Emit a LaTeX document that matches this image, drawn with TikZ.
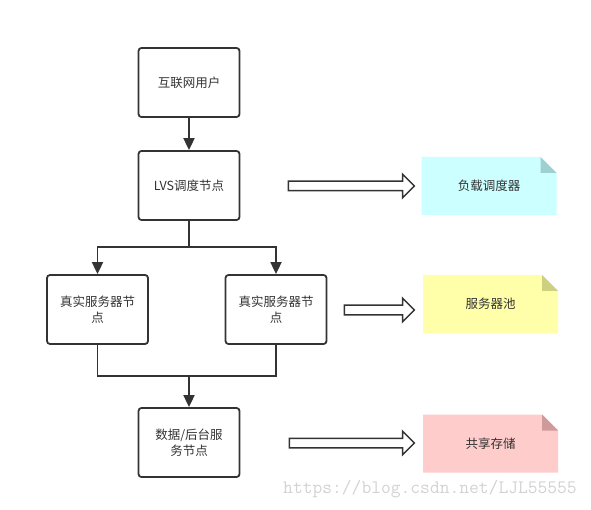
\documentclass[tikz,border=0pt]{standalone}
\usepackage{fontspec}
\newfontfamily\cjk{Noto Sans CJK SC}
\usepackage{tikz}
\usetikzlibrary{arrows.meta,shapes.arrows,positioning}
\definecolor{linegray}{HTML}{333333}
\definecolor{notecyan}{HTML}{CCFFFF}
\definecolor{foldcyan}{HTML}{9FCFCF}
\definecolor{noteyellow}{HTML}{FFFFAA}
\definecolor{foldyellow}{HTML}{CFCF80}
\definecolor{notepink}{HTML}{FFCCCC}
\definecolor{foldpink}{HTML}{CF9A9A}
\tikzstyle{block} = [rectangle, draw=linegray, line width=1.8pt, rounded corners=3pt, minimum width=101pt, minimum height=69pt, align=center, text=linegray, font=\cjk\fontsize{12.5}{16.5}\selectfont]
\tikzstyle{bigarrow} = [single arrow, draw=linegray, line width=1.5pt, inner xsep=0pt, inner ysep=4pt, single arrow head extend=7pt]
\tikzset{flow/.style = {
    draw=linegray, line width=1.8pt,
    -{Triangle[length=12pt,width=11pt]},
  },
  note/.style 2 args = {
    rectangle, minimum width=135pt, minimum height=58pt, text=linegray,
    font=\cjk\fontsize{12.5}{16.5}\selectfont,
    path picture={
      \fill[#1] (path picture bounding box.south west) -- (path picture bounding box.north west)
        -- ([xshift=-16pt]path picture bounding box.north east)
        -- ([yshift=-16pt]path picture bounding box.north east)
        -- (path picture bounding box.south east) -- cycle;
      \fill[#2] ([xshift=-16pt]path picture bounding box.north east)
        -- ([xshift=-16pt,yshift=-16pt]path picture bounding box.north east)
        -- ([yshift=-16pt]path picture bounding box.north east) -- cycle;
    }
  }
}

\begin{document}
\begin{tikzpicture}[x=1pt, y=-1pt]
  \useasboundingbox (0,0) rectangle (591,510);
  % nodes
  \node[block] (user) at (189, 82.5) {互联网用户};
  \node[block] (lvs) at (189, 185.5) {LVS调度节点};
  \node[block] (srvA) at (97.5, 309.5) {真实服务器节\\点};
  \node[block] (srvB) at (276, 309.5) {真实服务器节\\点};
  \node[block] (data) at (189, 442.5) {数据/后台服\\务节点};

  \coordinate (split) at (189, 247);
  \coordinate (merge) at (189, 376);

  % notes
  \node[note={notecyan}{foldcyan}] (lb) at (489, 186) {负载调度器};
  \node[note={noteyellow}{foldyellow}] (pool) at (490.5, 304) {服务器池};
  \node[note={notepink}{foldpink}] (store) at (490.5, 443.5) {共享存储};

  % hollow arrows
  \node[bigarrow, minimum height=126pt] (arr1) at (349, 186) {};
  \node[bigarrow, minimum height=70pt] (arr2) at (377, 310) {};
  \node[bigarrow, minimum height=125pt] (arr3) at (349.5, 443) {};

  % edges
  \draw[flow] (user) -- (lvs);
  \draw[draw=linegray, line width=1.8pt] (lvs) -- (split);
  \draw[flow] (split) -| (srvA);
  \draw[flow] (split) -| (srvB);
  \draw[draw=linegray, line width=1.8pt] (srvA) |- (merge);
  \draw[draw=linegray, line width=1.8pt] (srvB) |- (merge);
  \draw[flow] (merge) -- (data);

  % watermark
  \node[text=gray!35, font=\ttfamily\fontsize{19}{20}\selectfont] (mark) at (430, 489) {https://blog.csdn.net/LJL55555};
\end{tikzpicture}
\end{document}
